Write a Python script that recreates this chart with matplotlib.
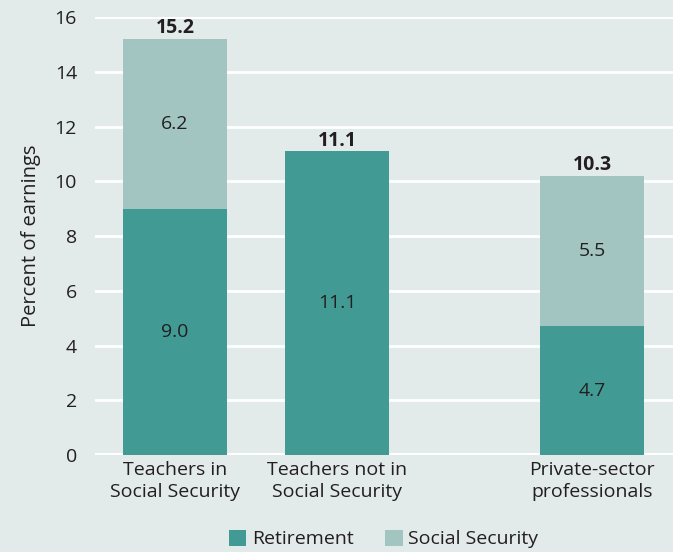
import matplotlib
matplotlib.use("Agg")
import matplotlib.pyplot as plt
import numpy as np

# data
categories = ["Teachers in\nSocial Security", "Teachers not in\nSocial Security",
              "Private-sector\nprofessionals"]
retirement = [9.0, 11.1, 4.7]
social_security = [6.2, 0.0, 5.5]
totals = [15.2, 11.1, 10.3]
yticks = [0, 2, 4, 6, 8, 10, 12, 14, 16]

# layout
X_POS = [0.0, 1.0, 2.574]
BAR_W = 0.642
BG = "#e2ebe9"
RET_COLOR = "#419b94"
SS_COLOR = "#a3c5c2"
TEXT = "#231f20"

plt.rcParams["font.family"] = ["Open Sans", "DejaVu Sans"]

fig = plt.figure(figsize=(6.73, 5.52), dpi=100, facecolor=BG)
ax = fig.add_axes([0.1412, 0.1757, 0.8588, 0.7935], facecolor=BG)

ax.bar(X_POS, retirement, width=BAR_W, color=RET_COLOR, label="Retirement", zorder=3)
ax.bar(X_POS, social_security, width=BAR_W, bottom=retirement, color=SS_COLOR,
       label="Social Security", zorder=3)

for x, r, s, t in zip(X_POS, retirement, social_security, totals):
    ax.text(x, r / 2, f"{r:.1f}", ha="center", va="center", fontsize=14, color=TEXT, zorder=4)
    if s > 0:
        ax.text(x, r + s / 2, f"{s:.1f}", ha="center", va="center", fontsize=14,
                color=TEXT, zorder=4)
    ax.text(x, r + s + 0.02, f"{t:.1f}", ha="center", va="bottom", fontsize=14,
            fontweight="bold", color=TEXT, zorder=4)

ax.set_xlim(-0.494, 3.074)
ax.set_ylim(0, 16)
ax.set_yticks(yticks)
ax.set_yticklabels([str(v) for v in yticks], fontsize=14, color=TEXT)
ax.yaxis.grid(True, color="white", linewidth=2, zorder=0)
ax.axhline(0, color="white", linewidth=3, zorder=2)
ax.set_xticks(X_POS)
ax.set_xticklabels(categories, fontsize=14, color=TEXT, linespacing=1.3)
ax.tick_params(axis="both", length=0)
ax.tick_params(axis="y", pad=13)
ax.tick_params(axis="x", pad=4)
for sp in ax.spines.values():
    sp.set_visible(False)

ax.set_ylabel("Percent of earnings", fontsize=14.5, color=TEXT, labelpad=10)

fig.legend(loc="lower center", bbox_to_anchor=(0.57, -0.025), ncol=2, frameon=False,
           fontsize=14, handlelength=0.9, handleheight=0.9, handletextpad=0.3,
           columnspacing=1.6, labelcolor=TEXT)

fig.savefig("out.png", dpi=100, facecolor=BG)
